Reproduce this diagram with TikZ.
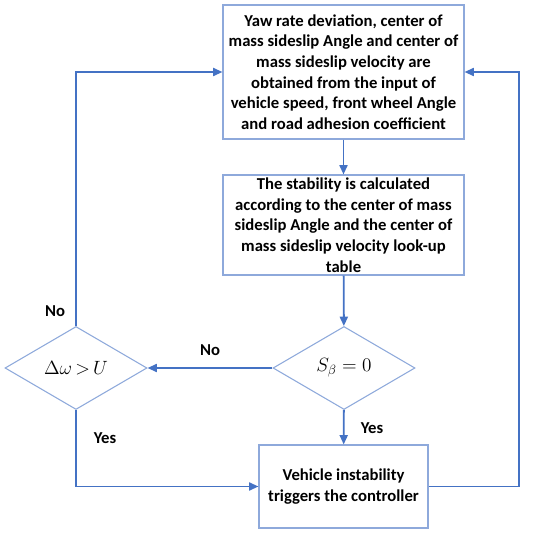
\documentclass[tikz,border=0pt]{standalone}
\usepackage{amsmath}
\usepackage{fontspec}
\setmainfont{Carlito}
\usetikzlibrary{shapes.geometric,arrows.meta,positioning}
\definecolor{linkblue}{HTML}{4472C4}
\definecolor{edgeblue}{HTML}{8EA9DB}

\begin{document}
\begin{tikzpicture}[x=0.75pt, y=-0.75pt,
  box/.style = {draw=edgeblue, line width=0.8pt, align=center, inner sep=0pt,
    font=\fontsize{12.5}{15.5}\selectfont\bfseries},
  test/.style = {draw=edgeblue, line width=0.8pt, diamond, inner sep=0pt,
    minimum width=106.5pt, minimum height=62.25pt, font=\fontsize{14}{16}\selectfont},
  flow/.style = {draw=linkblue, line width=1.4pt, -{Triangle[length=7pt,width=6pt]}},
  tag/.style = {font=\fontsize{12.5}{15}\selectfont\bfseries}]
\useasboundingbox (0,0) rectangle (550,534);

\node[box, minimum width=180.75pt, minimum height=100.5pt] (input) at (343.5,72)
  {Yaw rate deviation, center of\\ mass sideslip Angle and center of\\ mass sideslip velocity are\\
   obtained from the input of\\ vehicle speed, front wheel Angle\\ and road adhesion coefficient};
\node[box, minimum width=180.75pt, minimum height=75pt] (lookup) at (343.5,225)
  {The stability is calculated\\ according to the center of mass\\ sideslip Angle and the center of\\
   mass sideslip velocity look-up\\ table};
\node[test] (sbeta) at (344,368) {$S_\beta = 0$};
\node[test] (domega) at (76,368) {$\Delta\omega\,{>}\,U$};
\node[box, minimum width=126.75pt, minimum height=62.25pt] (ctrl) at (343.5,486.5)
  {Vehicle instability\\ triggers the controller};
\coordinate (back) at (519,72);

\draw[flow] (input) -- (lookup);
\draw[flow] (lookup) -- (sbeta);
\draw[flow] (sbeta) -- (domega);
\draw[flow] (sbeta) -- (ctrl);
\draw[flow] (domega.north) |- (input.west);
\draw[flow] (domega.south) |- (ctrl.west);
\draw[flow] (ctrl.east) -| (back) -- (input.east);

\node[tag] (no1) at (55,311) {No};
\node[tag] (no2) at (210,350) {No};
\node[tag] (yes1) at (105,438) {Yes};
\node[tag] (yes2) at (372,428) {Yes};
\end{tikzpicture}
\end{document}
